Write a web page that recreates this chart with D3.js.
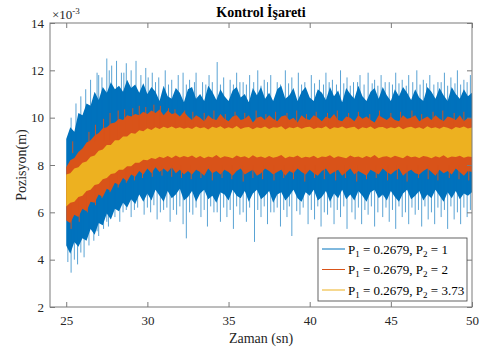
<!DOCTYPE html>
<html><head><meta charset="utf-8">
<script src="https://cdn.jsdelivr.net/npm/d3@7"></script>
<style>body{margin:0;background:#fff} text{font-family:'Liberation Serif','Times New Roman',serif}</style>
</head><body><svg id="c" width="481" height="349"></svg>
<script>
// time samples (s)
const time = [
25,25.25,25.5,25.75,26,26.25,26.5,26.75,27,27.25,
27.5,27.75,28,28.25,28.5,28.75,29,29.25,29.5,29.75,
30,30.25,30.5,30.75,31,31.25,31.5,31.75,32,32.25,
32.5,32.75,33,33.25,33.5,33.75,34,34.25,34.5,34.75,
35,35.25,35.5,35.75,36,36.25,36.5,36.75,37,37.25,
37.5,37.75,38,38.25,38.5,38.75,39,39.25,39.5,39.75,
40,40.25,40.5,40.75,41,41.25,41.5,41.75,42,42.25,
42.5,42.75,43,43.25,43.5,43.75,44,44.25,44.5,44.75,
45,45.25,45.5,45.75,46,46.25,46.5,46.75,47,47.25,
47.5,47.75,48,48.25,48.5,48.75,49,49.25,49.5,49.75,
50];
// dense envelopes of each series (x1e-3 m)
const blueHi = [
9.1,9.6,9.4,10.2,10.1,10.6,10.5,11.1,10.75,11.3,
11.05,11.5,11.2,11.35,11.1,11.6,11.25,11.4,11.05,11.45,
11.0,11.3,11.1,10.7,11.35,10.9,10.8,11.25,11.05,10.65,
11.2,11.3,10.8,11.0,10.7,11.35,11.1,10.75,11.2,10.9,
10.7,11.15,11.3,10.85,11.0,10.65,11.25,10.95,11.3,10.8,
11.05,10.7,11.2,11.35,10.8,10.95,11.25,10.7,11.1,11.3,
10.85,10.7,11.2,11.05,10.75,11.3,10.9,11.15,10.65,11.25,
11.0,10.8,11.35,10.9,10.7,11.1,11.25,10.8,11.3,10.95,
10.7,11.2,10.9,11.3,11.05,10.75,11.2,10.85,10.7,11.3,
11.1,10.8,11.25,10.95,10.7,11.3,11.0,10.8,11.2,10.9,
11.05];
const blueLo = [
4.6,4.25,4.75,4.55,4.9,4.8,5.3,5.05,5.55,5.45,
5.95,5.7,6.15,6.05,6.4,6.2,6.55,6.35,6.75,6.45,
6.8,6.5,6.95,6.7,6.45,6.9,6.6,6.75,7.0,6.5,
6.65,6.9,6.45,6.8,6.95,6.55,6.7,6.4,6.85,6.75,
6.5,6.95,6.7,6.6,6.9,6.45,6.8,6.95,6.55,6.7,
6.9,6.4,6.75,6.85,6.5,6.7,6.95,6.6,6.45,6.85,
6.7,6.95,6.5,6.65,6.9,6.45,6.8,6.6,6.95,6.55,
6.75,6.5,6.9,6.7,6.45,6.85,6.95,6.6,6.75,6.5,
6.9,6.65,6.45,6.8,6.95,6.55,6.7,6.9,6.5,6.75,
6.6,6.95,6.7,6.45,6.85,6.6,6.9,6.55,6.8,6.7,
6.85];
const orangeHi = [
7.9,8.2,8.3,8.55,8.7,8.95,9.05,9.25,9.35,9.55,
9.6,9.75,9.8,9.95,9.9,10.1,10.05,10.15,10.1,10.25,
10.15,10.3,10.2,10.35,10.1,10.3,10.15,10.2,10.05,10.25,
10.05,9.9,10.1,10.0,9.85,10.1,9.95,9.9,10.15,9.95,
9.85,10.05,10.1,9.9,9.95,10.1,9.8,10.0,10.05,9.9,
10.1,9.95,9.85,10.05,10.1,9.9,10.0,9.8,10.1,9.95,
9.9,10.1,10.0,9.85,10.05,9.95,10.15,9.9,9.85,10.05,
10.0,9.85,10.1,9.95,10.05,9.9,9.8,10.1,10.0,9.9,
10.05,9.9,9.85,10.1,9.95,10.0,10.1,9.85,9.95,10.05,
9.9,10.1,9.95,9.85,10.05,10.0,9.9,10.1,9.85,10.0,
9.95];
const orangeLo = [
5.65,5.55,5.9,5.8,6.15,6.05,6.45,6.4,6.75,6.65,
7.0,6.9,7.25,7.15,7.45,7.3,7.6,7.5,7.75,7.6,
7.85,7.65,7.9,7.7,7.85,7.7,7.9,7.65,7.8,7.6,
7.75,7.6,7.8,7.7,7.55,7.85,7.65,7.75,7.6,7.8,
7.7,7.55,7.75,7.85,7.6,7.7,7.8,7.55,7.65,7.85,
7.75,7.6,7.7,7.8,7.55,7.75,7.65,7.85,7.7,7.6,
7.8,7.65,7.55,7.75,7.85,7.6,7.7,7.8,7.55,7.7,
7.85,7.6,7.75,7.65,7.55,7.8,7.7,7.6,7.85,7.7,
7.6,7.75,7.85,7.55,7.7,7.8,7.65,7.6,7.75,7.85,
7.7,7.55,7.8,7.65,7.75,7.6,7.85,7.7,7.55,7.75,
7.7];
const yellowHi = [
7.6,7.65,7.85,7.9,8.1,8.15,8.35,8.4,8.6,8.65,
8.85,8.85,9.05,9.05,9.2,9.2,9.35,9.32,9.47,9.43,
9.55,9.48,9.6,9.52,9.62,9.55,9.63,9.54,9.6,9.53,
9.58,9.52,9.63,9.55,9.6,9.5,9.62,9.56,9.64,9.53,
9.6,9.54,9.65,9.52,9.58,9.61,9.51,9.6,9.55,9.63,
9.52,9.6,9.57,9.64,9.5,9.6,9.55,9.62,9.53,9.59,
9.62,9.52,9.58,9.55,9.64,9.51,9.6,9.56,9.63,9.54,
9.58,9.62,9.5,9.6,9.55,9.63,9.52,9.59,9.61,9.53,
9.6,9.55,9.63,9.51,9.58,9.62,9.54,9.6,9.52,9.64,
9.55,9.6,9.53,9.62,9.57,9.5,9.61,9.56,9.63,9.54,
9.58];
const yellowLo = [
6.25,6.4,6.45,6.65,6.7,6.9,6.95,7.15,7.2,7.4,
7.45,7.62,7.65,7.8,7.8,7.95,7.95,8.1,8.1,8.22,
8.2,8.3,8.25,8.35,8.3,8.38,8.3,8.4,8.32,8.38,
8.33,8.4,8.3,8.38,8.28,8.36,8.32,8.42,8.3,8.37,
8.34,8.28,8.4,8.33,8.37,8.29,8.41,8.32,8.36,8.3,
8.38,8.31,8.35,8.42,8.29,8.36,8.33,8.4,8.3,8.35,
8.32,8.39,8.28,8.36,8.34,8.41,8.3,8.37,8.33,8.29,
8.4,8.33,8.36,8.3,8.38,8.32,8.42,8.29,8.35,8.37,
8.31,8.39,8.34,8.28,8.4,8.33,8.36,8.3,8.38,8.35,
8.29,8.37,8.32,8.41,8.3,8.36,8.34,8.39,8.31,8.36,
8.34];
// thin spike extremes [time, value]
const blueTopSpikes = [
[25.3,10.0],[25.6,10.6],[25.9,10.9],[26.2,11.2],[26.5,11.6],[26.9,11.9],[27.0,11.8],[27.2,11.7],[27.5,12.5],[27.65,12.0],[27.8,12.2],[28.1,12.4],
[28.4,11.9],[28.55,11.9],[28.7,12.3],[29.0,12.0],[29.3,12.4],[29.6,11.8],[29.9,12.1],[30.05,11.7],[30.3,11.9],[30.5,11.5],[30.7,11.7],[31.1,12.0],[31.3,11.4],[31.5,11.6],
[31.9,11.8],[32.2,11.9],[32.4,11.4],[32.6,11.6],[32.9,11.5],[33.0,11.9],[33.4,11.5],[33.6,11.4],[33.8,11.8],[34.0,11.5],[34.3,12.35],[34.5,11.4],[34.7,11.7],[35.1,11.6],[35.3,11.4],[35.5,11.9],[35.7,11.5],
[35.9,11.5],[36.1,11.4],[36.3,11.8],[36.55,11.5],[36.8,12.0],[37.0,11.35],[37.2,11.6],[37.4,11.5],[37.6,11.8],[38.0,11.5],[38.2,11.4],[38.5,12.0],[38.7,11.45],[38.9,11.7],[39.3,11.9],[39.5,11.4],[39.7,11.5],
[40.1,11.8],[40.3,11.45],[40.6,11.6],[40.85,11.4],[41.0,11.9],[41.2,11.5],[41.4,11.6],[41.65,11.4],[41.9,12.0],[42.1,11.45],[42.3,11.7],[42.5,11.35],[42.7,11.5],[42.95,11.5],[43.1,11.8],[43.35,11.4],[43.6,11.9],[43.85,11.45],[44.0,11.6],
[44.2,11.35],[44.4,11.8],[44.65,11.5],[44.9,11.5],[45.1,11.4],[45.3,11.9],[45.5,11.45],[45.7,11.6],[45.95,11.35],[46.1,11.8],[46.35,11.5],[46.6,12.0],[46.8,11.4],[47.0,11.6],[47.2,11.45],[47.4,11.8],[47.65,11.4],[47.9,11.5],[48.1,11.5],[48.3,11.9],
[48.5,11.35],[48.7,11.7],[48.95,11.45],[49.1,12.0],[49.3,11.4],[49.5,11.6],[49.7,11.5],[49.9,11.8]];
const blueBottomSpikes = [
[25.1,3.9],[25.3,3.45],[25.5,4.0],[25.7,3.8],[25.9,4.3],[26.1,4.1],[26.4,4.6],[26.7,4.8],[26.9,5.2],[27.0,5.0],[27.3,5.3],[27.5,5.6],
[27.6,5.4],[28.0,5.8],[28.3,5.6],[28.5,6.0],[28.7,6.1],[29.0,5.8],[29.2,6.1],[29.4,6.2],[29.8,5.9],[30.0,6.2],[30.2,6.0],[30.4,6.3],[30.6,5.7],[30.8,6.0],[31.0,6.1],[31.2,6.2],
[31.4,5.6],[31.6,6.1],[31.8,5.9],[32.0,6.25],[32.2,5.5],[32.4,4.9],[32.6,6.0],[32.8,5.9],[33.0,6.2],[33.3,5.8],[33.5,6.1],[33.7,5.4],[33.9,6.25],[34.1,6.0],[34.3,6.0],[34.5,5.6],[34.7,6.2],[34.9,5.8],
[35.1,6.1],[35.3,5.3],[35.5,6.25],[35.7,5.9],[35.9,6.0],[36.1,5.6],[36.3,6.2],[36.6,4.75],[36.8,6.1],[37.0,5.8],[37.2,6.25],[37.4,5.5],[37.6,6.0],[37.8,6.0],[38.0,6.2],[38.2,5.4],[38.4,6.1],[38.6,5.8],[38.75,6.25],[38.9,5.0],
[39.2,6.05],[39.4,5.9],[39.6,6.2],[39.9,5.5],[40.1,6.1],[40.3,5.7],[40.5,6.25],[40.7,5.4],[40.9,6.0],[41.1,5.9],[41.3,6.2],[41.5,5.5],[41.7,6.1],[41.9,5.8],[42.1,6.25],[42.3,5.3],[42.6,6.0],[42.8,5.7],[43.0,6.2],[43.2,5.5],
[43.4,6.1],[43.6,5.9],[43.8,6.25],[44.0,5.4],[44.2,6.0],[44.5,5.8],[44.7,6.2],[44.9,5.6],[45.1,6.1],[45.3,5.3],[45.5,6.25],[45.7,5.8],[45.9,6.0],[46.1,5.5],[46.3,6.2],[46.5,5.9],[46.7,6.1],[46.9,5.4],[47.1,6.25],[47.3,5.7],
[47.5,6.0],[47.7,5.5],[47.9,6.2],[48.1,5.8],[48.3,6.1],[48.5,5.3],[48.7,6.25],[48.9,5.7],[49.1,6.0],[49.3,5.5],[49.5,6.2],[49.7,5.8],[49.9,6.1]];
const orangeTopSpikes = [
[25.4,8.5],[25.9,9.0],[26.4,9.4],[26.8,9.7],[27.3,9.95],[27.7,10.2],[28.2,10.3],[28.6,10.35],[29.1,10.4],[29.5,10.5],[29.9,10.45],[30.4,10.55],[30.8,10.5],[31.3,10.4],
[31.7,10.35],[32.3,10.3],[32.8,10.25],[33.5,10.2],[34.1,10.3],[34.8,10.15],[35.4,10.25],[36.0,10.2],[36.7,10.3],[37.3,10.15],[37.9,10.25],[38.6,10.2],[39.2,10.3],[39.8,10.15],
[40.4,10.25],[41.1,10.2],[41.7,10.3],[42.4,10.2],[43.0,10.25],[43.7,10.15],[44.3,10.3],[45.0,10.2],[45.6,10.25],[46.3,10.3],[46.9,10.15],[47.6,10.25],[48.2,10.3],[48.9,10.2],[49.5,10.25]];
const orangeBottomSpikes = [
[25.3,5.3],[25.8,5.6],[26.3,6.0],[26.8,6.3],[27.2,6.6],[27.7,6.85],[28.2,7.05],[28.7,7.25],[29.2,7.35],[29.7,7.45],[30.3,7.5],[30.9,7.55],[31.5,7.5],[32.1,7.45],
[32.7,7.4],[33.3,7.45],[34.0,7.35],[34.6,7.45],[35.2,7.4],[35.9,7.3],[36.5,7.45],[37.1,7.4],[37.8,7.35],[38.4,7.45],[39.0,7.4],[39.7,7.3],[40.3,7.45],[40.9,7.4],
[41.6,7.35],[42.2,7.45],[42.9,7.3],[43.5,7.4],[44.1,7.45],[44.8,7.35],[45.4,7.4],[46.0,7.3],[46.7,7.45],[47.3,7.4],[47.9,7.35],[48.6,7.45],[49.2,7.4],[49.8,7.35]];
const xTicks = [25,30,35,40,45,50];
const yTicks = [2,4,6,8,10,12,14];
const legendP1 = ["0.2679","0.2679","0.2679"];
const legendP2 = ["1","2","3.73"];
const colors = ["#0072BD","#D95319","#EDB120"];

const svg = d3.select("#c");
const L=50, R=472, T=23, B=307;
const x = d3.scaleLinear().domain([24,50]).range([L,R]);
const y = d3.scaleLinear().domain([2,14]).range([B,T]);
const font = "'Liberation Serif','Times New Roman',serif";

svg.append("clipPath").attr("id","pc").append("rect")
  .attr("x",L).attr("y",T).attr("width",R-L).attr("height",B-T);
const g = svg.append("g").attr("clip-path","url(#pc)");

const area = (lo,hi)=>d3.area().x((d,i)=>x(time[i])).y0((d,i)=>y(lo[i])).y1((d,i)=>y(hi[i]));
function spikes(data, anchor, color, op){
  g.append("g").selectAll("line").data(data).join("line")
    .attr("x1",d=>x(d[0])).attr("x2",d=>x(d[0])).attr("y1",d=>y(d[1])).attr("y2",y(anchor))
    .attr("stroke",color).attr("stroke-width",1).attr("stroke-opacity",op);
}
g.append("path").datum(time).attr("d",area(blueLo,blueHi)).attr("fill",colors[0]);
spikes(blueTopSpikes, 9, colors[0], 0.65);
spikes(blueBottomSpikes, 8, colors[0], 0.65);
g.append("path").datum(time).attr("d",area(orangeLo,orangeHi)).attr("fill",colors[1]);
spikes(orangeTopSpikes, 9, colors[1], 0.9);
spikes(orangeBottomSpikes, 8, colors[1], 0.9);
g.append("path").datum(time).attr("d",area(yellowLo,yellowHi)).attr("fill",colors[2]);

// axes
const axColor = "#7a7a7a";
function styleAxis(sel){
  sel.attr("font-family",font).attr("font-size",13);
  sel.select(".domain").remove();
  sel.selectAll("line").attr("stroke",axColor);
  sel.selectAll("text").attr("fill","#262626");
}
svg.append("g").attr("transform",`translate(0,${B})`)
  .call(d3.axisBottom(x).tickValues(xTicks).tickSizeInner(-5).tickSizeOuter(0).tickPadding(9)).call(styleAxis);
svg.append("g").attr("transform",`translate(${L},0)`)
  .call(d3.axisLeft(y).tickValues(yTicks).tickSizeInner(-5).tickSizeOuter(0).tickPadding(6)).call(styleAxis);
svg.append("g").attr("transform",`translate(0,${T})`)
  .call(d3.axisTop(x).tickValues(xTicks).tickSizeInner(-5).tickSizeOuter(0).tickFormat("")).call(styleAxis);
svg.append("g").attr("transform",`translate(${R},0)`)
  .call(d3.axisRight(y).tickValues(yTicks).tickSizeInner(-5).tickSizeOuter(0).tickFormat("")).call(styleAxis);
svg.append("rect").attr("x",L).attr("y",T).attr("width",R-L).attr("height",B-T)
  .attr("fill","none").attr("stroke",axColor).attr("stroke-width",1);

// exponent
const ex = svg.append("text").attr("x",L+2).attr("y",19).attr("font-family",font).attr("font-size",13).attr("fill","#262626");
ex.append("tspan").text("×10");
ex.append("tspan").attr("dy",-5).attr("font-size",9).text("-3");

// title & labels
svg.append("text").attr("x",(L+R)/2).attr("y",17).attr("text-anchor","middle")
  .attr("font-family",font).attr("font-size",14).attr("font-weight","bold").attr("fill","#000").text("Kontrol İşareti");
svg.append("text").attr("x",(L+R)/2).attr("y",343).attr("text-anchor","middle")
  .attr("font-family",font).attr("font-size",14).attr("fill","#262626").text("Zaman (sn)");
svg.append("text").attr("transform",`translate(26,${(T+B)/2}) rotate(-90)`).attr("text-anchor","middle")
  .attr("font-family",font).attr("font-size",14).attr("fill","#262626").text("Pozisyon(m)");

// legend
const lg = svg.append("g");
lg.append("rect").attr("x",318).attr("y",238).attr("width",149).attr("height",63)
  .attr("fill","#fff").attr("stroke","#3c3c3c").attr("stroke-width",0.8);
const ly = [249,269.5,290];
legendP2.forEach((p2,i)=>{
  lg.append("line").attr("x1",322).attr("x2",345).attr("y1",ly[i]).attr("y2",ly[i])
    .attr("stroke",colors[i]).attr("stroke-width",1);
  const t = lg.append("text").attr("x",348).attr("y",ly[i]+4.5)
    .attr("font-family",font).attr("font-size",13).attr("fill","#000");
  t.append("tspan").text("P");
  t.append("tspan").attr("dy",3).attr("font-size",9).text("1");
  t.append("tspan").attr("dy",-3).text(" = "+legendP1[i]+", P");
  t.append("tspan").attr("dy",3).attr("font-size",9).text("2");
  t.append("tspan").attr("dy",-3).text(" = "+p2);
});
</script></body></html>
